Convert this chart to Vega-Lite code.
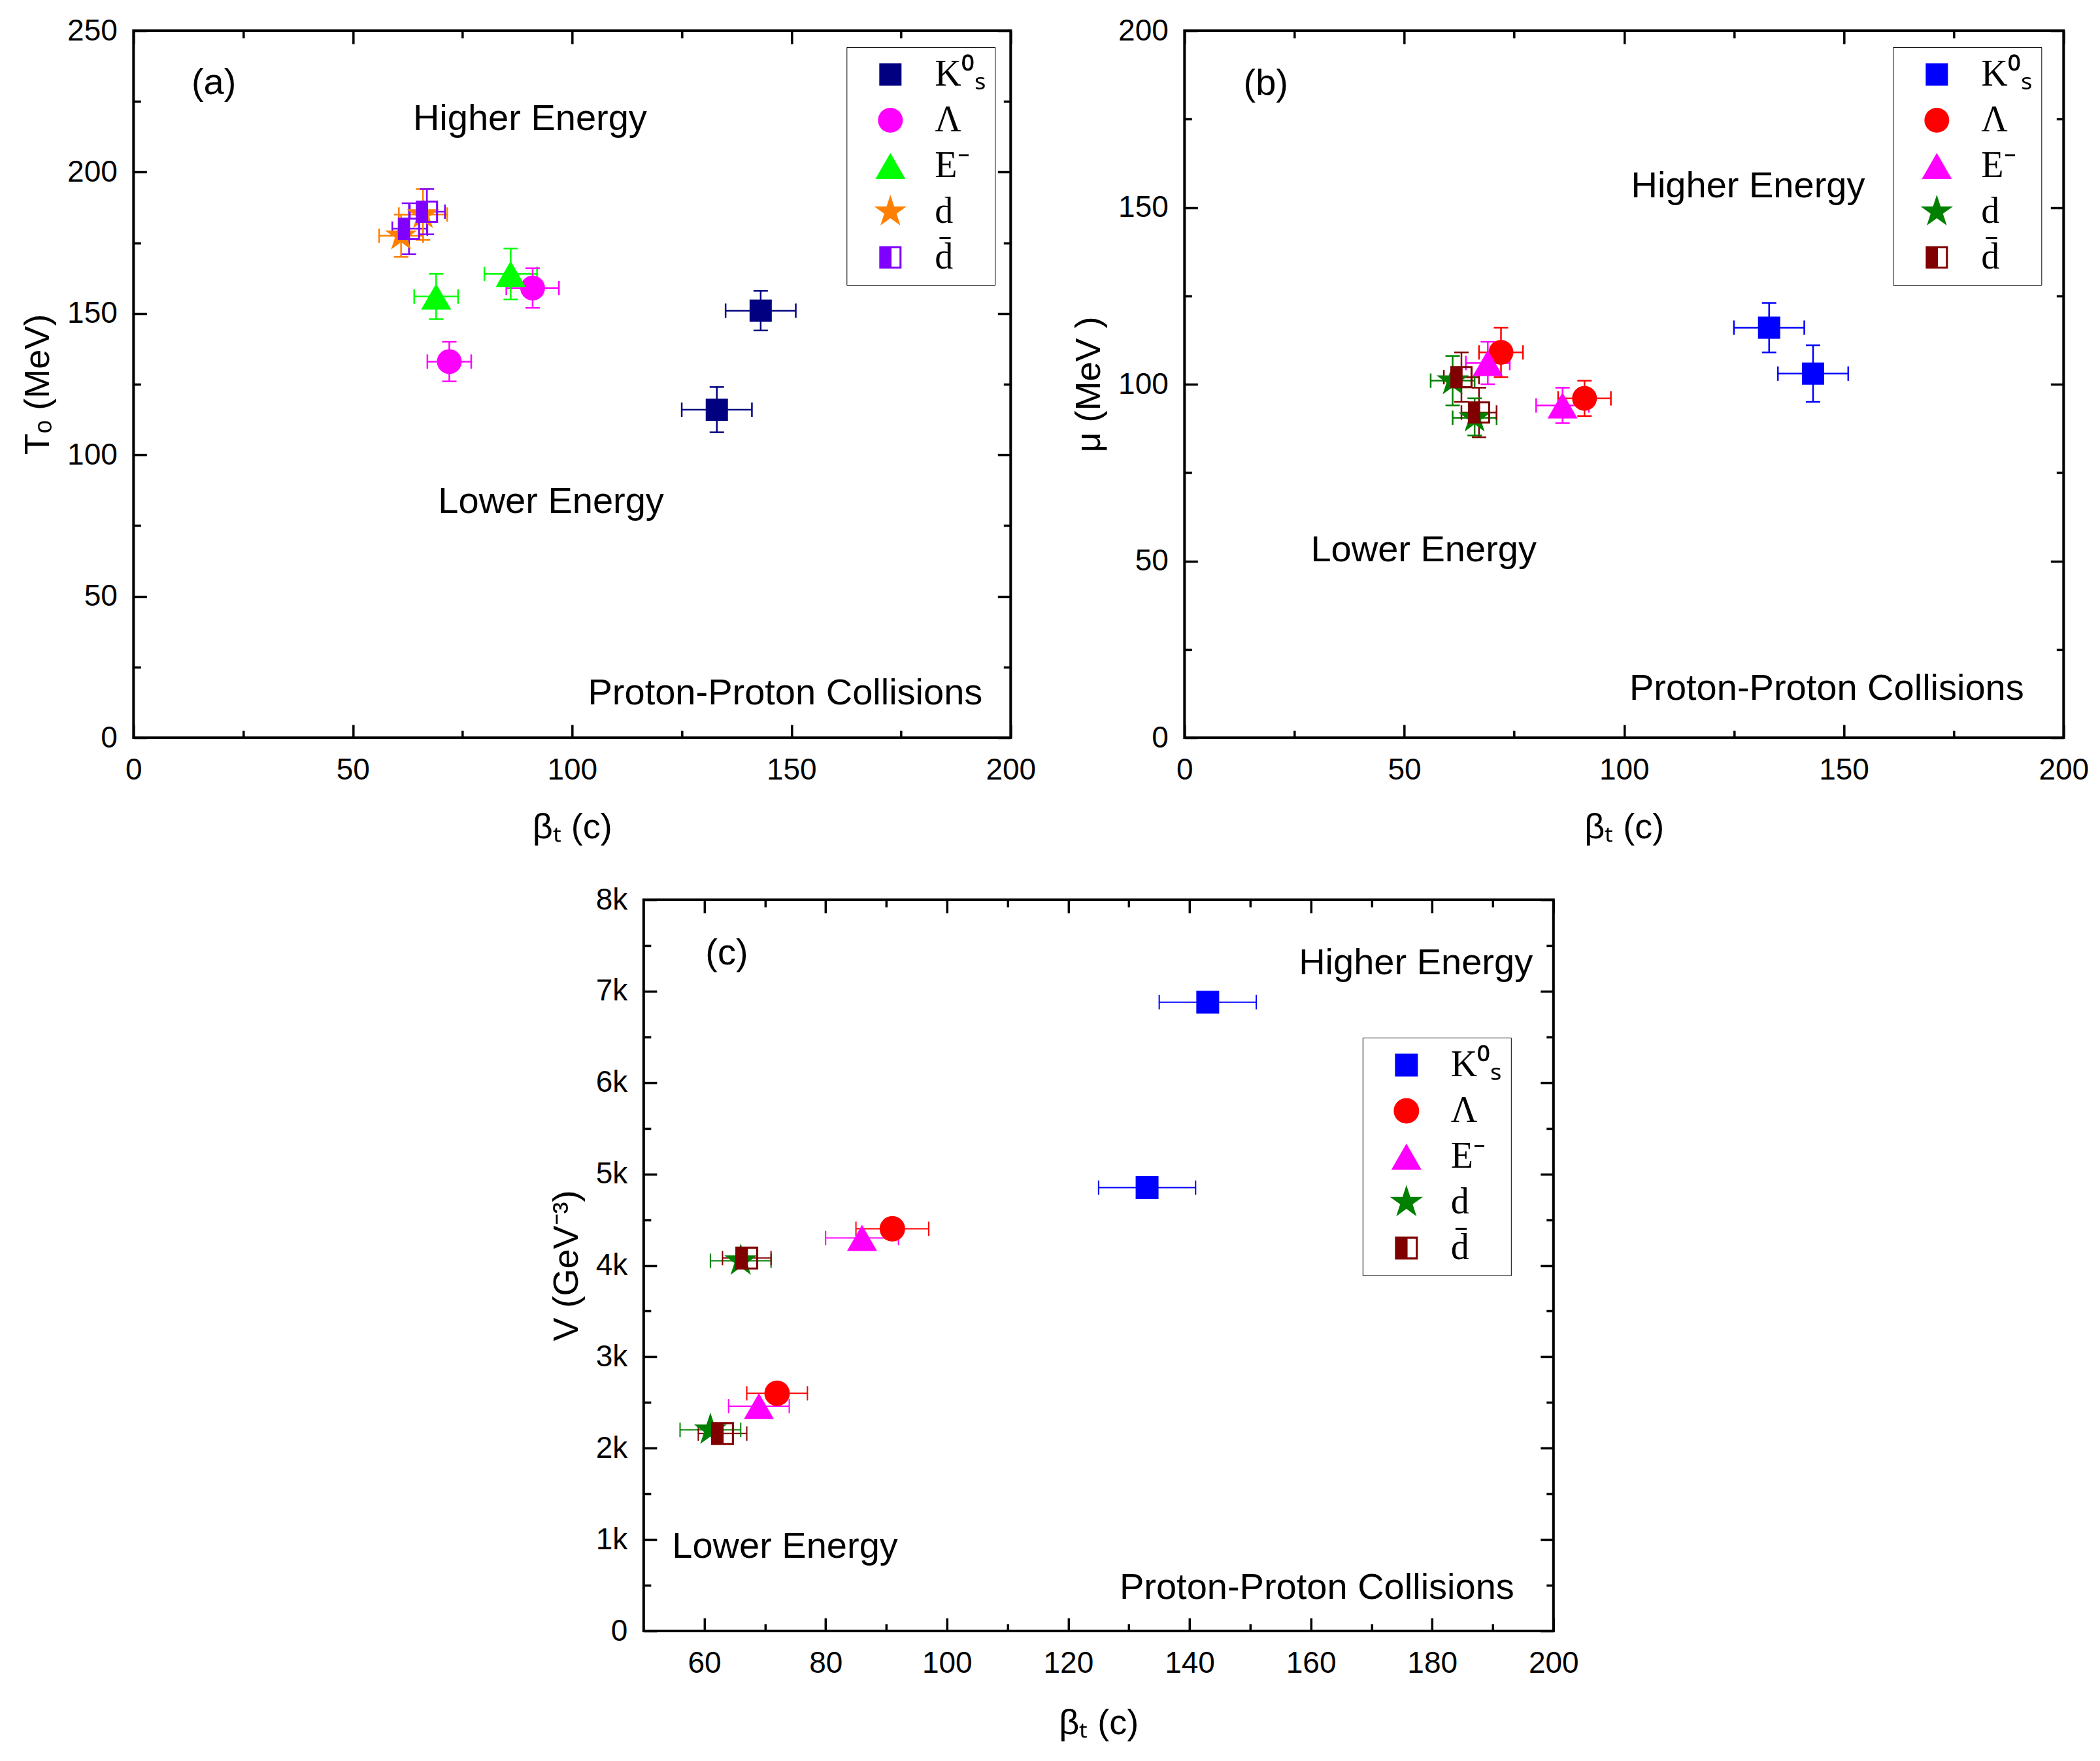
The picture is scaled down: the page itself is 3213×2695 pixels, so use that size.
{
  "$schema": "https://vega.github.io/schema/vega-lite/v6.json",
  "background": "white",
  "padding": {"left": 29, "top": 22, "right": 0, "bottom": 0},
  "config": {
    "view": {"stroke": "black", "strokeWidth": 4},
    "axis": {
      "grid": false, "domain": false, "tickColor": "black", "tickWidth": 3.5,
      "labelFont": "Liberation Sans", "labelFontSize": 46, "labelColor": "black",
      "labelFlush": false, "labelOverlap": false,
      "titleFont": "Liberation Sans", "titleFontSize": 54, "titleFontWeight": "normal", "titleColor": "black"
    },
    "legend": {
      "labelFont": "Liberation Serif", "labelFontSize": 56, "labelColor": "black",
      "strokeColor": "black", "fillColor": "white", "padding": 14, "symbolOffset": 25,
      "rowPadding": 14, "labelOffset": 40, "symbolStrokeWidth": 0, "symbolOpacity": 1
    },
    "text": {"font": "Liberation Sans", "fontSize": 56, "color": "black", "baseline": "middle"}
  },
  "datasets": {
    "a": [
      {"p": "K⁰ₛ", "x": 143, "y": 151, "xlo": 135, "xhi": 151, "ylo": 144, "yhi": 158},
      {"p": "K⁰ₛ", "x": 133, "y": 116, "xlo": 125, "xhi": 141, "ylo": 108, "yhi": 124},
      {"p": "Λ", "x": 91, "y": 159, "xlo": 85, "xhi": 97, "ylo": 152, "yhi": 166},
      {"p": "Λ", "x": 72, "y": 133, "xlo": 67, "xhi": 77, "ylo": 126, "yhi": 140},
      {"p": "E⁻", "x": 69, "y": 156, "xlo": 64, "xhi": 74, "ylo": 148, "yhi": 164},
      {"p": "E⁻", "x": 86, "y": 164, "xlo": 80, "xhi": 92, "ylo": 155, "yhi": 173},
      {"p": "d", "x": 61, "y": 177.5, "xlo": 56, "xhi": 66, "ylo": 170, "yhi": 185},
      {"p": "d", "x": 66, "y": 185, "xlo": 60.5, "xhi": 71.5, "ylo": 176, "yhi": 194},
      {"p": "d̄", "x": 62.8, "y": 180, "xlo": 59, "xhi": 67, "ylo": 171, "yhi": 189},
      {"p": "d̄", "x": 66.9, "y": 186, "xlo": 63, "xhi": 71, "ylo": 178, "yhi": 194}
    ],
    "b": [
      {"p": "K⁰ₛ", "x": 133, "y": 116, "xlo": 125, "xhi": 141, "ylo": 109, "yhi": 123},
      {"p": "K⁰ₛ", "x": 143, "y": 103, "xlo": 135, "xhi": 151, "ylo": 95, "yhi": 111},
      {"p": "Λ", "x": 72, "y": 109, "xlo": 67, "xhi": 77, "ylo": 102, "yhi": 116},
      {"p": "Λ", "x": 91, "y": 96, "xlo": 85, "xhi": 97, "ylo": 91, "yhi": 101},
      {"p": "E⁻", "x": 69, "y": 106, "xlo": 64, "xhi": 74, "ylo": 100, "yhi": 112},
      {"p": "E⁻", "x": 86, "y": 94, "xlo": 80, "xhi": 92, "ylo": 89, "yhi": 99},
      {"p": "d", "x": 61, "y": 101, "xlo": 56, "xhi": 66, "ylo": 94, "yhi": 108},
      {"p": "d", "x": 66, "y": 90.5, "xlo": 61, "xhi": 71, "ylo": 85.5, "yhi": 96},
      {"p": "d̄", "x": 63, "y": 102, "xlo": 59, "xhi": 67, "ylo": 95, "yhi": 109},
      {"p": "d̄", "x": 67, "y": 92, "xlo": 63, "xhi": 71, "ylo": 85, "yhi": 99}
    ],
    "c": [
      {"p": "K⁰ₛ", "x": 143, "y": 6880, "xlo": 135, "xhi": 151},
      {"p": "K⁰ₛ", "x": 133, "y": 4850, "xlo": 125, "xhi": 141},
      {"p": "Λ", "x": 91, "y": 4400, "xlo": 85, "xhi": 97},
      {"p": "Λ", "x": 72, "y": 2600, "xlo": 67, "xhi": 77},
      {"p": "E⁻", "x": 86, "y": 4300, "xlo": 80, "xhi": 92},
      {"p": "E⁻", "x": 69, "y": 2460, "xlo": 64, "xhi": 74},
      {"p": "d", "x": 66, "y": 4050, "xlo": 61, "xhi": 71},
      {"p": "d", "x": 61, "y": 2200, "xlo": 56, "xhi": 66},
      {"p": "d̄", "x": 67, "y": 4080, "xlo": 63, "xhi": 71},
      {"p": "d̄", "x": 63, "y": 2160, "xlo": 59, "xhi": 67}
    ],
    "ta": [
      {"t": "(a)", "x": 18.3, "y": 231.5},
      {"t": "Higher Energy", "x": 90.4, "y": 218.7},
      {"t": "Lower Energy", "x": 95.2, "y": 83.3},
      {"t": "Proton-Proton Collisions", "x": 148.6, "y": 15.6}
    ],
    "tb": [
      {"t": "(b)", "x": 18.5, "y": 185},
      {"t": "Higher Energy", "x": 128.2, "y": 156},
      {"t": "Lower Energy", "x": 54.4, "y": 53},
      {"t": "Proton-Proton Collisions", "x": 146.1, "y": 13.9}
    ],
    "tc": [
      {"t": "(c)", "x": 63.7, "y": 7413},
      {"t": "Higher Energy", "x": 177.3, "y": 7306},
      {"t": "Lower Energy", "x": 73.3, "y": 922},
      {"t": "Proton-Proton Collisions", "x": 161.0, "y": 470}
    ]
  },
  "center": true,
  "spacing": 57,
  "resolve": {
    "scale": {"fill": "independent", "stroke": "independent", "shape": "independent", "size": "independent"},
    "legend": {"fill": "independent", "shape": "independent", "size": "independent", "stroke": "independent"}
  },
  "vconcat": [
    {
      "spacing": 50,
      "resolve": {
        "scale": {"fill": "independent", "stroke": "independent", "shape": "independent", "size": "independent"},
        "legend": {"fill": "independent", "shape": "independent", "size": "independent", "stroke": "independent"}
      },
      "hconcat": [
        {
          "width": 1342, "height": 1082,
          "data": {"name": "a"},
          "resolve": {"axis": {"x": "independent", "y": "independent"}},
          "layer": [
            {
              "mark": {"type": "rule", "strokeWidth": 2.5},
              "encoding": {
                "x": {"field": "xlo", "type": "quantitative", "scale": {"domain": [0, 200], "nice": false},
                  "axis": {"orient": "bottom", "values": [0, 50, 100, 150, 200], "tickSize": -20, "labelPadding": 47, "title": "βₜ (c)", "titlePadding": 38}},
                "x2": {"field": "xhi"},
                "y": {"field": "y", "type": "quantitative", "scale": {"domain": [0, 250], "nice": false},
                  "axis": {"orient": "left", "values": [0, 50, 100, 150, 200, 250], "tickSize": -20, "labelPadding": 45, "title": "Tₒ (MeV)", "titlePadding": 17}},
                "stroke": {"field": "p", "type": "nominal", "legend": null,
                  "scale": {"domain": ["d̄", "d", "E⁻", "Λ", "K⁰ₛ"], "range": ["#8000ff", "#ff8000", "#00ff00", "#ff00ff", "#000080"]}}
              }
            },
            {
              "mark": {"type": "rule", "strokeWidth": 2.5},
              "encoding": {
                "x": {"field": "x", "type": "quantitative", "scale": {"domain": [0, 200], "nice": false},
                  "axis": {"orient": "top", "values": [0, 50, 100, 150, 200], "tickSize": -20, "labels": false, "title": null}},
                "y": {"field": "ylo", "type": "quantitative", "scale": {"domain": [0, 250], "nice": false},
                  "axis": {"orient": "right", "values": [0, 50, 100, 150, 200, 250], "tickSize": -20, "labels": false, "title": null}},
                "y2": {"field": "yhi"},
                "stroke": {"field": "p", "type": "nominal", "legend": null}
              }
            },
            {
              "mark": {"type": "point", "shape": "M0,-1L0,1", "filled": false, "strokeWidth": 2.5, "size": 484, "opacity": 1},
              "encoding": {
                "x": {"field": "xlo", "type": "quantitative", "scale": {"domain": [0, 200], "nice": false},
                  "axis": {"orient": "bottom", "values": [25, 75, 125, 175], "tickSize": -11, "labels": false, "title": null}},
                "y": {"field": "y", "type": "quantitative", "scale": {"domain": [0, 250], "nice": false},
                  "axis": {"orient": "left", "values": [25, 75, 125, 175, 225], "tickSize": -11, "labels": false, "title": null}},
                "stroke": {"field": "p", "type": "nominal", "legend": null}
              }
            },
            {
              "mark": {"type": "point", "shape": "M0,-1L0,1", "filled": false, "strokeWidth": 2.5, "size": 484, "opacity": 1},
              "encoding": {
                "x": {"field": "xhi", "type": "quantitative", "scale": {"domain": [0, 200], "nice": false},
                  "axis": {"orient": "top", "values": [25, 75, 125, 175], "tickSize": -11, "labels": false, "title": null}},
                "y": {"field": "y", "type": "quantitative", "scale": {"domain": [0, 250], "nice": false},
                  "axis": {"orient": "right", "values": [25, 75, 125, 175, 225], "tickSize": -11, "labels": false, "title": null}},
                "stroke": {"field": "p", "type": "nominal", "legend": null}
              }
            },
            {
              "mark": {"type": "point", "shape": "M-1,0L1,0", "filled": false, "strokeWidth": 2.5, "size": 484, "opacity": 1},
              "encoding": {
                "x": {"field": "x", "type": "quantitative", "axis": null},
                "y": {"field": "ylo", "type": "quantitative", "axis": null},
                "stroke": {"field": "p", "type": "nominal", "legend": null}
              }
            },
            {
              "mark": {"type": "point", "shape": "M-1,0L1,0", "filled": false, "strokeWidth": 2.5, "size": 484, "opacity": 1},
              "encoding": {
                "x": {"field": "x", "type": "quantitative", "axis": null},
                "y": {"field": "yhi", "type": "quantitative", "axis": null},
                "stroke": {"field": "p", "type": "nominal", "legend": null}
              }
            },
            {
              "mark": {"type": "point", "filled": true, "opacity": 1, "strokeWidth": 0},
              "encoding": {
                "x": {"field": "x", "type": "quantitative", "axis": null},
                "y": {"field": "y", "type": "quantitative", "axis": null},
                "fill": {"field": "p", "type": "nominal",
                  "scale": {"domain": ["K⁰ₛ", "Λ", "E⁻", "d", "d̄"], "range": ["#000080", "#ff00ff", "#00ff00", "#ff8000", "#8000ff"]},
                  "legend": {"title": null, "orient": "none", "legendX": 1091, "legendY": 25}},
                "shape": {"field": "p", "type": "nominal",
                  "scale": {"domain": ["K⁰ₛ", "Λ", "E⁻", "d", "d̄"], "range": ["square", "circle", "triangle-up", "M0,-1L0.2245,-0.309L0.951,-0.309L0.3633,0.118L0.5878,0.809L0,0.382L-0.5878,0.809L-0.3633,0.118L-0.951,-0.309L-0.2245,-0.309Z", "M-1,-1L1,-1L1,1L-1,1ZM0.1,-0.82L0.1,0.82L0.82,0.82L0.82,-0.82Z"]},
                  "legend": {"title": null, "orient": "none", "legendX": 1091, "legendY": 25}},
                "size": {"field": "p", "type": "nominal",
                  "scale": {"type": "ordinal", "domain": ["K⁰ₛ", "Λ", "E⁻", "d", "d̄"], "range": [1156, 1444, 2116, 2700, 1156]},
                  "legend": {"title": null, "orient": "none", "legendX": 1091, "legendY": 25}}
              }
            },
            {
              "data": {"name": "ta"},
              "mark": {"type": "text"},
              "encoding": {
                "x": {"field": "x", "type": "quantitative", "axis": null},
                "y": {"field": "y", "type": "quantitative", "axis": null},
                "text": {"field": "t"}
              }
            }
          ]
        },
        {
          "width": 1345, "height": 1082,
          "data": {"name": "b"},
          "resolve": {"axis": {"x": "independent", "y": "independent"}},
          "layer": [
            {
              "mark": {"type": "rule", "strokeWidth": 2.5},
              "encoding": {
                "x": {"field": "xlo", "type": "quantitative", "scale": {"domain": [0, 200], "nice": false},
                  "axis": {"orient": "bottom", "values": [0, 50, 100, 150, 200], "tickSize": -20, "labelPadding": 47, "title": "βₜ (c)", "titlePadding": 38}},
                "x2": {"field": "xhi"},
                "y": {"field": "y", "type": "quantitative", "scale": {"domain": [0, 200], "nice": false},
                  "axis": {"orient": "left", "values": [0, 50, 100, 150, 200], "tickSize": -20, "labelPadding": 45, "title": "μ (MeV )", "titlePadding": 17}},
                "stroke": {"field": "p", "type": "nominal", "legend": null,
                  "scale": {"domain": ["d̄", "d", "E⁻", "Λ", "K⁰ₛ"], "range": ["#800000", "#008000", "#ff00ff", "#ff0000", "#0000ff"]}}
              }
            },
            {
              "mark": {"type": "rule", "strokeWidth": 2.5},
              "encoding": {
                "x": {"field": "x", "type": "quantitative", "scale": {"domain": [0, 200], "nice": false},
                  "axis": {"orient": "top", "values": [0, 50, 100, 150, 200], "tickSize": -20, "labels": false, "title": null}},
                "y": {"field": "ylo", "type": "quantitative", "scale": {"domain": [0, 200], "nice": false},
                  "axis": {"orient": "right", "values": [0, 50, 100, 150, 200], "tickSize": -20, "labels": false, "title": null}},
                "y2": {"field": "yhi"},
                "stroke": {"field": "p", "type": "nominal", "legend": null}
              }
            },
            {
              "mark": {"type": "point", "shape": "M0,-1L0,1", "filled": false, "strokeWidth": 2.5, "size": 484, "opacity": 1},
              "encoding": {
                "x": {"field": "xlo", "type": "quantitative", "scale": {"domain": [0, 200], "nice": false},
                  "axis": {"orient": "bottom", "values": [25, 75, 125, 175], "tickSize": -11, "labels": false, "title": null}},
                "y": {"field": "y", "type": "quantitative", "scale": {"domain": [0, 200], "nice": false},
                  "axis": {"orient": "left", "values": [25, 75, 125, 175], "tickSize": -11, "labels": false, "title": null}},
                "stroke": {"field": "p", "type": "nominal", "legend": null}
              }
            },
            {
              "mark": {"type": "point", "shape": "M0,-1L0,1", "filled": false, "strokeWidth": 2.5, "size": 484, "opacity": 1},
              "encoding": {
                "x": {"field": "xhi", "type": "quantitative", "scale": {"domain": [0, 200], "nice": false},
                  "axis": {"orient": "top", "values": [25, 75, 125, 175], "tickSize": -11, "labels": false, "title": null}},
                "y": {"field": "y", "type": "quantitative", "scale": {"domain": [0, 200], "nice": false},
                  "axis": {"orient": "right", "values": [25, 75, 125, 175], "tickSize": -11, "labels": false, "title": null}},
                "stroke": {"field": "p", "type": "nominal", "legend": null}
              }
            },
            {
              "mark": {"type": "point", "shape": "M-1,0L1,0", "filled": false, "strokeWidth": 2.5, "size": 484, "opacity": 1},
              "encoding": {
                "x": {"field": "x", "type": "quantitative", "axis": null},
                "y": {"field": "ylo", "type": "quantitative", "axis": null},
                "stroke": {"field": "p", "type": "nominal", "legend": null}
              }
            },
            {
              "mark": {"type": "point", "shape": "M-1,0L1,0", "filled": false, "strokeWidth": 2.5, "size": 484, "opacity": 1},
              "encoding": {
                "x": {"field": "x", "type": "quantitative", "axis": null},
                "y": {"field": "yhi", "type": "quantitative", "axis": null},
                "stroke": {"field": "p", "type": "nominal", "legend": null}
              }
            },
            {
              "mark": {"type": "point", "filled": true, "opacity": 1, "strokeWidth": 0},
              "encoding": {
                "x": {"field": "x", "type": "quantitative", "axis": null},
                "y": {"field": "y", "type": "quantitative", "axis": null},
                "fill": {"field": "p", "type": "nominal",
                  "scale": {"domain": ["K⁰ₛ", "Λ", "E⁻", "d", "d̄"], "range": ["#0000ff", "#ff0000", "#ff00ff", "#008000", "#800000"]},
                  "legend": {"title": null, "orient": "none", "legendX": 1084, "legendY": 25}},
                "shape": {"field": "p", "type": "nominal",
                  "scale": {"domain": ["K⁰ₛ", "Λ", "E⁻", "d", "d̄"], "range": ["square", "circle", "triangle-up", "M0,-1L0.2245,-0.309L0.951,-0.309L0.3633,0.118L0.5878,0.809L0,0.382L-0.5878,0.809L-0.3633,0.118L-0.951,-0.309L-0.2245,-0.309Z", "M-1,-1L1,-1L1,1L-1,1ZM0.1,-0.82L0.1,0.82L0.82,0.82L0.82,-0.82Z"]},
                  "legend": {"title": null, "orient": "none", "legendX": 1084, "legendY": 25}},
                "size": {"field": "p", "type": "nominal",
                  "scale": {"type": "ordinal", "domain": ["K⁰ₛ", "Λ", "E⁻", "d", "d̄"], "range": [1156, 1444, 2116, 2700, 1156]},
                  "legend": {"title": null, "orient": "none", "legendX": 1084, "legendY": 25}}
              }
            },
            {
              "data": {"name": "tb"},
              "mark": {"type": "text"},
              "encoding": {
                "x": {"field": "x", "type": "quantitative", "axis": null},
                "y": {"field": "y", "type": "quantitative", "axis": null},
                "text": {"field": "t"}
              }
            }
          ]
        }
      ]
    },
    {
      "width": 1392, "height": 1119,
      "data": {"name": "c"},
      "resolve": {"axis": {"x": "independent", "y": "independent"}},
      "layer": [
        {
          "mark": {"type": "rule", "strokeWidth": 2},
          "encoding": {
            "x": {"field": "xlo", "type": "quantitative", "scale": {"domain": [50, 200], "nice": false},
              "axis": {"orient": "bottom", "values": [60, 80, 100, 120, 140, 160, 180, 200], "tickSize": -20, "labelPadding": 47, "title": "βₜ (c)", "titlePadding": 42}},
            "x2": {"field": "xhi"},
            "y": {"field": "y", "type": "quantitative", "scale": {"domain": [0, 8000], "nice": false},
              "axis": {"orient": "left", "values": [0, 1000, 2000, 3000, 4000, 5000, 6000, 7000, 8000], "tickSize": -20, "labelPadding": 45,
                "labelExpr": "datum.value == 0 ? '0' : format(datum.value / 1000, 'd') + 'k'", "title": "V (GeV⁻³)", "titlePadding": 17}},
            "stroke": {"field": "p", "type": "nominal", "legend": null,
              "scale": {"domain": ["d̄", "d", "E⁻", "Λ", "K⁰ₛ"], "range": ["#800000", "#008000", "#ff00ff", "#ff0000", "#0000ff"]}}
          }
        },
        {
          "mark": {"type": "point", "shape": "M0,-1L0,1", "filled": false, "strokeWidth": 2, "size": 484, "opacity": 1},
          "encoding": {
            "x": {"field": "xlo", "type": "quantitative", "scale": {"domain": [50, 200], "nice": false},
              "axis": {"orient": "top", "values": [60, 80, 100, 120, 140, 160, 180, 200], "tickSize": -20, "labels": false, "title": null}},
            "y": {"field": "y", "type": "quantitative", "scale": {"domain": [0, 8000], "nice": false},
              "axis": {"orient": "right", "values": [0, 1000, 2000, 3000, 4000, 5000, 6000, 7000, 8000], "tickSize": -20, "labels": false, "title": null}},
            "stroke": {"field": "p", "type": "nominal", "legend": null}
          }
        },
        {
          "mark": {"type": "point", "shape": "M0,-1L0,1", "filled": false, "strokeWidth": 2, "size": 484, "opacity": 1},
          "encoding": {
            "x": {"field": "xhi", "type": "quantitative", "scale": {"domain": [50, 200], "nice": false},
              "axis": {"orient": "bottom", "values": [70, 90, 110, 130, 150, 170, 190], "tickSize": -11, "labels": false, "title": null}},
            "y": {"field": "y", "type": "quantitative", "scale": {"domain": [0, 8000], "nice": false},
              "axis": {"orient": "left", "values": [500, 1500, 2500, 3500, 4500, 5500, 6500, 7500], "tickSize": -11, "labels": false, "title": null}},
            "stroke": {"field": "p", "type": "nominal", "legend": null}
          }
        },
        {
          "mark": {"type": "point", "filled": true, "opacity": 1, "strokeWidth": 0},
          "encoding": {
            "x": {"field": "x", "type": "quantitative", "scale": {"domain": [50, 200], "nice": false},
              "axis": {"orient": "top", "values": [70, 90, 110, 130, 150, 170, 190], "tickSize": -11, "labels": false, "title": null}},
            "y": {"field": "y", "type": "quantitative", "scale": {"domain": [0, 8000], "nice": false},
              "axis": {"orient": "right", "values": [500, 1500, 2500, 3500, 4500, 5500, 6500, 7500], "tickSize": -11, "labels": false, "title": null}},
            "fill": {"field": "p", "type": "nominal",
              "scale": {"domain": ["K⁰ₛ", "Λ", "E⁻", "d", "d̄"], "range": ["#0000ff", "#ff0000", "#ff00ff", "#008000", "#800000"]},
              "legend": {"title": null, "orient": "none", "legendX": 1100, "legendY": 211}},
            "shape": {"field": "p", "type": "nominal",
              "scale": {"domain": ["K⁰ₛ", "Λ", "E⁻", "d", "d̄"], "range": ["square", "circle", "triangle-up", "M0,-1L0.2245,-0.309L0.951,-0.309L0.3633,0.118L0.5878,0.809L0,0.382L-0.5878,0.809L-0.3633,0.118L-0.951,-0.309L-0.2245,-0.309Z", "M-1,-1L1,-1L1,1L-1,1ZM0.1,-0.82L0.1,0.82L0.82,0.82L0.82,-0.82Z"]},
              "legend": {"title": null, "orient": "none", "legendX": 1100, "legendY": 211}},
            "size": {"field": "p", "type": "nominal",
              "scale": {"type": "ordinal", "domain": ["K⁰ₛ", "Λ", "E⁻", "d", "d̄"], "range": [1225, 1521, 2116, 2800, 1225]},
              "legend": {"title": null, "orient": "none", "legendX": 1100, "legendY": 211}}
          }
        },
        {
          "data": {"name": "tc"},
          "mark": {"type": "text"},
          "encoding": {
            "x": {"field": "x", "type": "quantitative", "axis": null},
            "y": {"field": "y", "type": "quantitative", "axis": null},
            "text": {"field": "t"}
          }
        }
      ]
    }
  ]
}
